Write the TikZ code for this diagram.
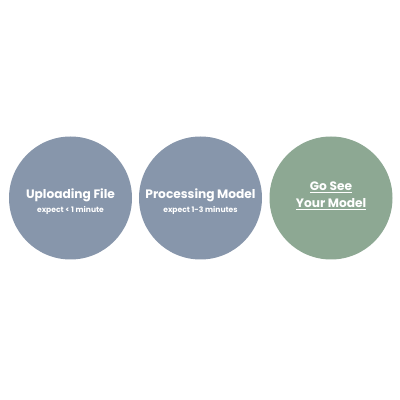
\documentclass[tikz,border=0pt]{standalone}
\usepackage{fontspec}
\setmainfont{Poppins}
\definecolor{stepblue}{HTML}{8796AB}
\definecolor{stepgreen}{HTML}{8DA893}
\begin{document}
\begin{tikzpicture}[x=1pt,y=1pt,
  disc/.style={circle,minimum size=123pt,inner sep=0pt,draw=none},
  ttl/.style={text=white,font=\fontsize{12.2}{14}\selectfont\bfseries},
  sub/.style={text=white,font=\fontsize{7.6}{9}\selectfont\bfseries}]
\useasboundingbox (0,0) rectangle (400,400);
\fill[white] (0,0) rectangle (400,400);
\node[disc,fill=stepblue] (c1) at (70.5,202) {};
\node[disc,fill=stepblue] (c2) at (200.5,202) {};
\node[disc,fill=stepgreen] (c3) at (331,202) {};
\node[ttl] (t1) at (70.5,205) {Uploading File};
\node[sub] (s1) at (70.5,190) {expect < 1 minute};
\node[ttl] (t2) at (200.5,205) {Processing Model};
\node[sub] (s2) at (200.5,190) {expect 1-3 minutes};
\node[ttl] (t3) at (331,213) {\underline{Go See}};
\node[ttl] (t4) at (331,196) {\underline{Your Model}};
\end{tikzpicture}
\end{document}
